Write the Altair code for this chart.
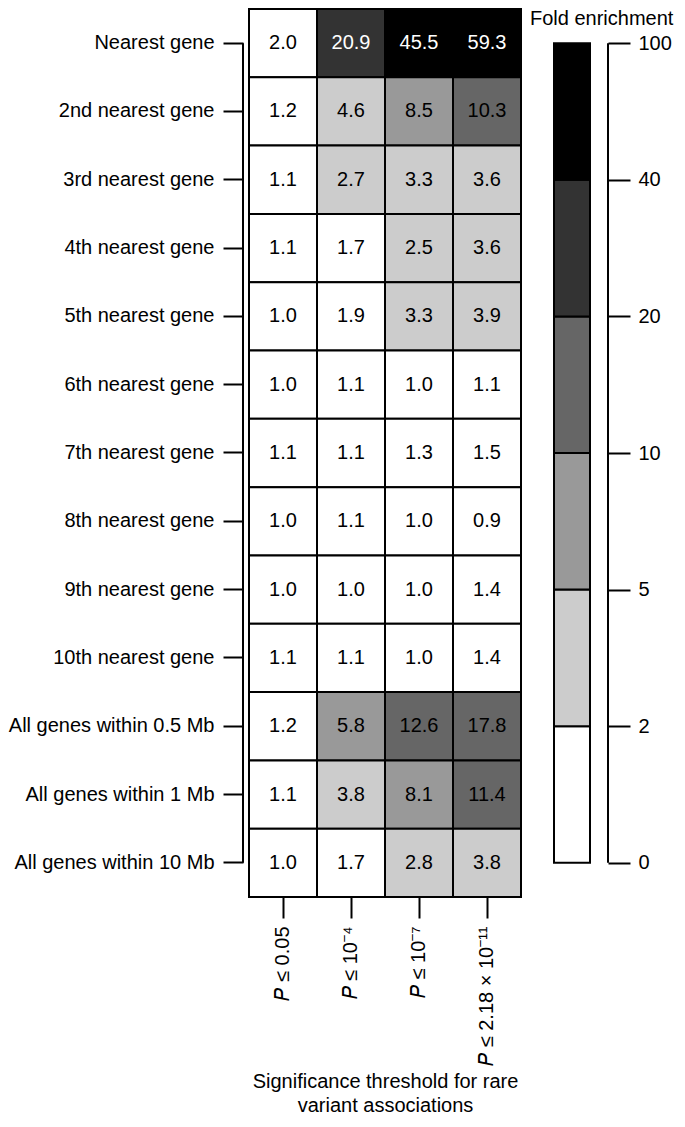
import json
import altair as alt
import pandas as pd

FONT = "Liberation Sans"

rows = [
    "Nearest gene", "2nd nearest gene", "3rd nearest gene", "4th nearest gene",
    "5th nearest gene", "6th nearest gene", "7th nearest gene", "8th nearest gene",
    "9th nearest gene", "10th nearest gene", "All genes within 0.5 Mb",
    "All genes within 1 Mb", "All genes within 10 Mb",
]
thresholds = ["𝑃 ≤ 0.05", "𝑃 ≤ 10⁻⁴", "𝑃 ≤ 10⁻⁷", "𝑃 ≤ 2.18 × 10⁻¹¹"]

p_005 = [2.0, 1.2, 1.1, 1.1, 1.0, 1.0, 1.1, 1.0, 1.0, 1.1, 1.2, 1.1, 1.0]
p_1e4 = [20.9, 4.6, 2.7, 1.7, 1.9, 1.1, 1.1, 1.1, 1.0, 1.1, 5.8, 3.8, 1.7]
p_1e7 = [45.5, 8.5, 3.3, 2.5, 3.3, 1.0, 1.3, 1.0, 1.0, 1.0, 12.6, 8.1, 2.8]
p_218e11 = [59.3, 10.3, 3.6, 3.6, 3.9, 1.1, 1.5, 0.9, 1.4, 1.4, 17.8, 11.4, 3.8]

bin_edges = [0, 2, 5, 10, 20, 40, 100]
bin_colors = ["#ffffff", "#cccccc", "#999999", "#666666", "#333333", "#000000"]

records = []
for col, vals in zip(thresholds, [p_005, p_1e4, p_1e7, p_218e11]):
    for r, v in zip(rows, vals):
        records.append({"row": r, "col": col, "value": v})
df = pd.DataFrame(records)

# bins are (lo, hi]
expr = "0"
for i, e in enumerate(bin_edges[1:-1], start=1):
    expr = f"(datum.value > {e} ? {i} : {expr})"

W = 272
H = 888

color_scale = alt.Scale(domain=list(range(len(bin_colors))), range=bin_colors)

xenc = alt.X(
    "col:N", sort=thresholds,
    axis=alt.Axis(
        title=["Significance threshold for rare", "variant associations"],
        labelAngle=-90, tickSize=21, labelPadding=8, domain=False,
        titlePadding=6, titleLineHeight=24, labelLimit=300,
    ),
)
yenc = alt.Y(
    "row:N", sort=rows,
    axis=alt.Axis(title=None, tickSize=20, offset=6, labelPadding=9, domain=False,
                  labelLimit=300),
)

base = alt.Chart(df).transform_calculate(bin=expr)
rect = base.mark_rect(stroke="black", strokeWidth=2).encode(
    x=xenc, y=yenc,
    color=alt.Color("bin:O", scale=color_scale, legend=None),
)
text = base.mark_text(fontSize=20, font=FONT).encode(
    x=xenc, y=yenc,
    text=alt.Text("value:Q", format=".1f"),
    color=alt.condition("datum.bin >= 4", alt.value("white"), alt.value("black")),
)
ydom = alt.Chart(pd.DataFrame({"k": [0]})).mark_rule(color="black", strokeWidth=2).encode(
    x=alt.value(-6),
    y=alt.YDatum(rows[0], type="nominal", bandPosition=0.5),
    y2=alt.Y2Datum(rows[-1], bandPosition=0.5),
)
heat = alt.layer(rect, text, ydom).properties(width=W, height=H)

cb_df = pd.DataFrame({
    "lo": list(range(len(bin_colors))),
    "hi": list(range(1, len(bin_colors) + 1)),
    "bin": list(range(len(bin_colors))),
})
label_arr = json.dumps([str(e) for e in bin_edges])
cb_rect = alt.Chart(cb_df).mark_rect(stroke="black", strokeWidth=2).encode(
    x=alt.value(0), x2=alt.value(36),
    y=alt.Y(
        "lo:Q",
        scale=alt.Scale(domain=[-0.25, len(bin_colors) + 0.25], nice=False, zero=False),
        axis=alt.Axis(
            orient="right", values=list(range(len(bin_edges))),
            labelExpr=f"{label_arr}[datum.value]", offset=18, tickSize=22,
            labelPadding=8, domain=False, grid=False, title=None,
        ),
    ),
    y2="hi:Q",
    color=alt.Color("bin:O", scale=color_scale, legend=None),
)
cb_dom = alt.Chart(pd.DataFrame({"k": [0]})).mark_rule(color="black", strokeWidth=2).encode(
    x=alt.value(54),
    y=alt.YDatum(0),
    y2=alt.Y2Datum(len(bin_edges) - 1),
)
cb_title = alt.Chart(pd.DataFrame({"k": [0]})).mark_text(
    text="Fold enrichment", fontSize=20, font=FONT, align="left", baseline="middle",
    color="black",
).encode(x=alt.value(-24), y=alt.value(10))
cbar = alt.layer(cb_rect, cb_dom, cb_title).properties(width=36, height=H)

chart = alt.hconcat(heat, cbar, spacing=8).properties(padding=0).resolve_scale(
    color="independent"
).configure_view(strokeWidth=0).configure_axis(
    labelFont=FONT, titleFont=FONT, labelFontSize=20, titleFontSize=20,
    labelColor="black", titleColor="black", tickColor="black", tickWidth=2,
    titleFontWeight="normal",
)

chart.save("out.html", embed_options={"renderer": "svg", "actions": False})
